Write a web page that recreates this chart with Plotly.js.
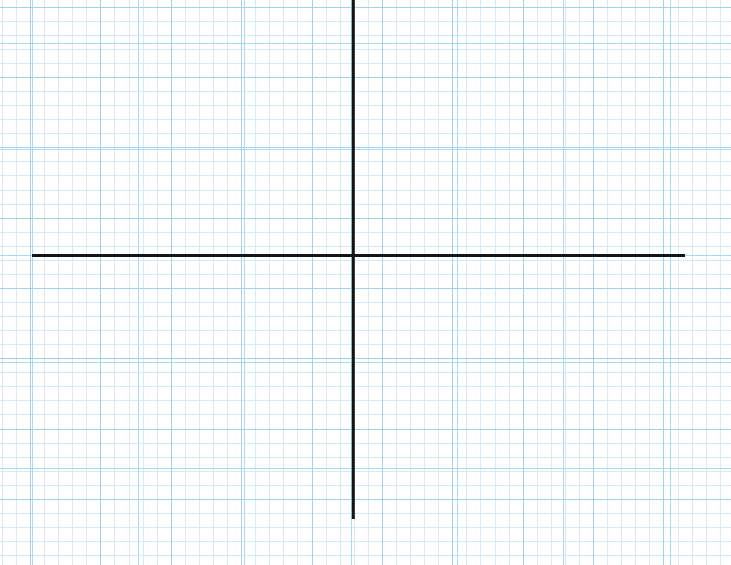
<!DOCTYPE html>
<html>
<head>
<meta charset="utf-8">
<script src="https://cdn.plot.ly/plotly-3.0.1.min.js"></script>
<style>html,body{margin:0;padding:0;background:#fff;}#chart{width:731px;height:565px;}</style>
</head>
<body>
<div id="chart"></div>
<script>
// Axis cross (data units: one small grid cell = 1)
var hLineX = [-22.82, 23.56];
var hLineY = [0, 0];
var vLineX = [0, 0];
var vLineY = [18.6, -18.75];

// Visible window of the fine grid, in the same units
var xRange = [-25.096, 26.829];
var yRange = [-22.018, 18.176];

// Coarse overlay grid window (one coarse cell = 1)
var x2Range = [-0.3038, 6.571];
var y2Range = [4.909, -0.4044];

var crossColor = '#121518';
var data = [
  {type: 'scatter', mode: 'lines', x: hLineX, y: hLineY, xaxis: 'x', yaxis: 'y',
   line: {color: crossColor, width: 3}, hoverinfo: 'skip', cliponaxis: true},
  {type: 'scatter', mode: 'lines', x: vLineX, y: vLineY, xaxis: 'x', yaxis: 'y',
   line: {color: crossColor, width: 3}, hoverinfo: 'skip', cliponaxis: true},
  {type: 'scatter', mode: 'markers', x: [], y: [], xaxis: 'x2', yaxis: 'y2', hoverinfo: 'skip'}
];

var minorCol = '#d5ebf6';
var majorCol = '#a3d3ea';
var coarseCol = '#a8dbf2';

function fine(range, t0, mt0) {
  return {
    range: range, showticklabels: false, ticks: '', zeroline: false, showline: false,
    showgrid: true, gridcolor: majorCol, gridwidth: 1, tick0: t0, dtick: 5,
    minor: {showgrid: true, gridcolor: minorCol, gridwidth: 1, tick0: mt0, dtick: 1, ticks: ''},
    fixedrange: true
  };
}

var layout = {
  width: 731, height: 565,
  margin: {l: 0, r: 0, t: 0, b: 0, pad: 0},
  paper_bgcolor: '#ffffff', plot_bgcolor: '#ffffff',
  showlegend: false, hovermode: false,
  xaxis: fine(xRange, 2.068, 0.068),
  yaxis: fine(yRange, 2.657, 0.657),
  xaxis2: {range: x2Range, overlaying: 'x', anchor: 'y2', showticklabels: false, ticks: '',
           zeroline: false, showline: false, showgrid: true, gridcolor: coarseCol, gridwidth: 1,
           tick0: 0, dtick: 1, fixedrange: true},
  yaxis2: {range: y2Range, overlaying: 'y', anchor: 'x2', showticklabels: false, ticks: '',
           zeroline: false, showline: false, showgrid: true, gridcolor: coarseCol, gridwidth: 1,
           tick0: 0, dtick: 1, fixedrange: true}
};

Plotly.newPlot('chart', data, layout, {staticPlot: true, displayModeBar: false});
</script>
</body>
</html>
